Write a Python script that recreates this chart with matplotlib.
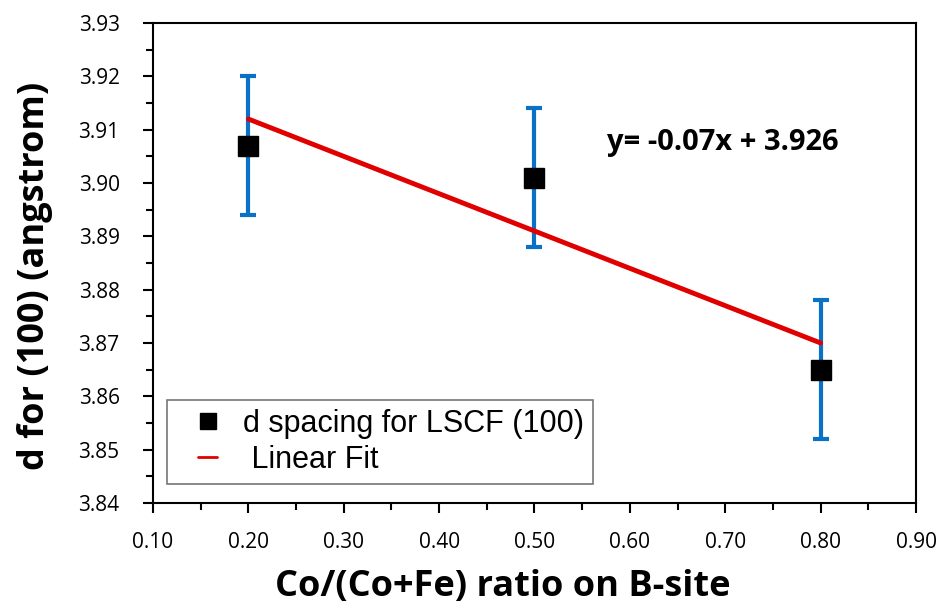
import matplotlib.pyplot as plt
from matplotlib.ticker import MultipleLocator, FormatStrFormatter
from matplotlib.legend_handler import HandlerLine2D

# data
ratio = [0.2, 0.5, 0.8]
d_spacing = [3.907, 3.901, 3.865]
d_err = [0.013, 0.013, 0.013]
fit_x = [0.2, 0.8]
fit_y = [3.912, 3.870]

fig = plt.figure(figsize=(9.46, 6.10), dpi=100)
ax = fig.add_axes([0.1617, 0.1754, 0.8066, 0.7869])

ax.errorbar(ratio, d_spacing, yerr=d_err, fmt='none', ecolor='#0a72c6',
            elinewidth=3, capsize=6, capthick=3, zorder=2)
fit_line, = ax.plot(fit_x, fit_y, color='#e00000', lw=3.5, solid_capstyle='round',
                    zorder=3, label=' Linear Fit')
pts, = ax.plot(ratio, d_spacing, 's', color='black', ms=14, zorder=4,
               label='d spacing for LSCF (100)')

ax.set_xlim(0.1, 0.9)
ax.set_ylim(3.84, 3.93)
ax.xaxis.set_major_locator(MultipleLocator(0.1))
ax.xaxis.set_minor_locator(MultipleLocator(0.05))
ax.yaxis.set_major_locator(MultipleLocator(0.01))
ax.yaxis.set_minor_locator(MultipleLocator(0.005))
ax.xaxis.set_major_formatter(FormatStrFormatter('%.2f'))
ax.yaxis.set_major_formatter(FormatStrFormatter('%.2f'))
ax.tick_params(which='both', direction='out', width=1.5, labelsize=15)
ax.tick_params(which='major', length=7)
ax.tick_params(which='minor', length=5)
ax.tick_params(axis='x', which='major', pad=14)
ax.tick_params(axis='y', which='major', pad=17)
for lab in ax.get_xticklabels() + ax.get_yticklabels():
    lab.set_family('Open Sans')
for s in ax.spines.values():
    s.set_linewidth(1.5)

ax.set_xlabel('Co/(Co+Fe) ratio on B-site', fontsize=26, fontweight='bold',
              family='Open Sans')
ax.set_ylabel('d for (100) (angstrom)', fontsize=26, fontweight='bold',
              family='Open Sans')
ax.xaxis.set_label_coords(0.459, -0.175)
ax.xaxis.label.set_va('center')
ax.yaxis.set_label_coords(-0.155, 0.473)
ax.yaxis.label.set_va('center')

ax.text(0.576, 3.9075, 'y= -0.07x + 3.926', fontsize=21, fontweight='bold',
        family='Open Sans', va='center')

hmap = {pts: HandlerLine2D(xpad=0.72), fit_line: HandlerLine2D(xpad=0.72)}
leg = ax.legend(handles=[pts, fit_line], handler_map=hmap, loc='lower left',
                bbox_to_anchor=(0.0183, 0.0396), borderaxespad=0,
                frameon=True, fancybox=False, edgecolor='#555555',
                handlelength=1.34, handletextpad=0.85, borderpad=0.3, labelspacing=0.2,
                prop={'family': 'Liberation Sans', 'size': 22})
leg.get_frame().set_linewidth(1.2)
leg.legend_handles[0].set_markersize(11)
leg.legend_handles[1].set_linewidth(2)

fig.savefig('out.png', dpi=100)
